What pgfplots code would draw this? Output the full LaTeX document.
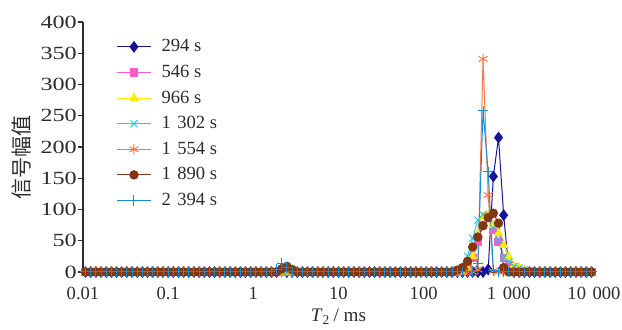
\documentclass[border=0pt]{standalone}
\usepackage{fontspec}
\setmainfont{Liberation Serif}
\newfontfamily\cjk{Noto Sans CJK SC}
\usepackage{pgfplots}
\usepackage{pgfplotstable}
\pgfplotsset{compat=1.18}
\definecolor{c1}{RGB}{20,20,150}
\definecolor{c2}{RGB}{250,90,200}
\definecolor{c3}{RGB}{250,235,0}
\definecolor{c4}{RGB}{40,200,230}
\definecolor{c5}{RGB}{250,120,70}
\definecolor{c6}{RGB}{130,55,20}
\definecolor{c7}{RGB}{20,140,220}
\definecolor{txt}{RGB}{45,45,45}
\newcommand{\ts}{\hspace{0.35em}}

\pgfplotstableread{
x a b c d e f g
0.010723 0 0 0 0 0 0 0
0.012328 0 0 0 0 0 0 0
0.014175 0 0 0 0 0 0 0
0.016298 0 0 0 0 0 0 0
0.018738 0 0 0 0 0 0 0
0.021544 0 0 0 0 0 0 0
0.024771 0 0 0 0 0 0 0
0.028480 0 0 0 0 0 0 0
0.032745 0 0 0 0 0 0 0
0.037649 0 0 0 0 0 0 0
0.043288 0 0 0 0 0 0 0
0.049770 0 0 0 0 0 0 0
0.057224 0 0 0 0 0 0 0
0.065793 0 0 0 0 0 0 0
0.075646 0 0 0 0 0 0 0
0.086975 0 0 0 0 0 0 0
0.1 0 0 0 0 0 0 0
0.11498 0 0 0 0 0 0 0
0.13219 0 0 0 0 0 0 0
0.15199 0 0 0 0 0 0 0
0.17475 0 0 0 0 0 0 0
0.20092 0 0 0 0 0 0 0
0.23101 0 0 0 0 0 0 0
0.26561 0 0 0 0 0 0 0
0.30539 0 0 0 0 0 0 0
0.35112 0 0 0 0 0 0 0
0.40370 0 0 0 0 0 0 0
0.46416 0 0 0 0 0 0 0
0.53367 0 0 0 0 0 0 0
0.61359 0 0 0 0 0 0 0
0.70548 0 0 0 0 0 0 0
0.81113 0 0 0 0 0 0 0
0.93260 0 0 0 0 0 0 0
1.0723 0 0 0 0 0 0 0
1.2328 0 0 0 0 0 0 0
1.4175 0 0 0 0 0 0 0
1.6298 0 0 0 0 0 0 0
1.8738 0 0 0 0 0 0 4
2.1544 2 0 0 0 0 5 14
2.4771 0 0 0 0 6 9 7
2.8480 0 0 0 0 0 4 0
3.2745 0 0 0 0 0 0 0
3.7649 0 0 0 0 0 0 0
4.3288 0 0 0 0 0 0 0
4.9770 0 0 0 0 0 0 0
5.7224 0 0 0 0 0 0 0
6.5793 0 0 0 0 0 0 0
7.5646 0 0 0 0 0 0 0
8.6975 0 0 0 0 0 0 0
10 0 0 0 0 0 0 0
11.498 0 0 0 0 0 0 0
13.219 0 0 0 0 0 0 0
15.199 0 0 0 0 0 0 0
17.475 0 0 0 0 0 0 0
20.092 0 0 0 0 0 0 0
23.101 0 0 0 0 0 0 0
26.561 0 0 0 0 0 0 0
30.539 0 0 0 0 0 0 0
35.112 0 0 0 0 0 0 0
40.370 0 0 0 0 0 0 0
46.416 0 0 0 0 0 0 0
53.367 0 0 0 0 0 0 0
61.359 0 0 0 0 0 0 0
70.548 0 0 0 0 0 0 0
81.113 0 0 0 0 0 0 0
93.260 0 0 0 0 0 0 0
107.23 0 0 0 0 0 0 0
123.28 0 0 0 0 0 0 0
141.75 0 0 0 0 0 0 0
162.98 0 0 0 0 0 0 0
187.38 0 0 0 0 0 0 0
215.44 0 0 0 0 0 0 0
247.71 0 0 0 0 0 3 0
284.80 0 3 0 4 0 7 0
327.45 0 8 5 25 0 17 0
376.49 0 22 25 54 0 40 0
432.88 0 48 60 83 4 56 13
497.70 0 75 88 92 341 74 258
572.24 4 90 91 86 123 87 160
657.93 153 67 75 70 2 94 3
756.46 215 48 62 51 0 78 0
869.75 91 22 43 24 0 7 0
1000 4 11 24 16 0 0 0
1149.8 0 4 10 9 0 0 0
1321.9 0 0 7 6 0 0 0
1519.9 0 0 3 4 0 0 0
1747.5 0 0 0 2 0 0 0
2009.2 0 0 0 0 0 0 0
2310.1 0 0 0 0 0 0 0
2656.1 0 0 0 0 0 0 0
3053.9 0 0 0 0 0 0 0
3511.2 0 0 0 0 0 0 0
4037.0 0 0 0 0 0 0 0
4641.6 0 0 0 0 0 0 0
5336.7 0 0 0 0 0 0 0
6135.9 0 0 0 0 0 0 0
7054.8 0 0 0 0 0 0 0
8111.3 0 0 0 0 0 0 0
9326.0 0 0 0 0 0 0 0
}\data

\begin{document}
\begin{tikzpicture}
\useasboundingbox (-41.5pt,-29pt) rectangle (269.5pt,136pt);
\begin{axis}[
  at={(0,0)}, anchor=south west,
  scale only axis, width=255.5pt, height=125pt,
  xmode=log, xmin=0.01, xmax=10000, ymin=0, ymax=400,
  axis x line=bottom, axis y line=left,
  axis line style={-, color=txt, line width=0.6pt},
  xtick={0.01,0.1,1,10,100,1000,10000},
  xticklabels={0.01,0.1,1,10,100,1\ts000,10\ts000},
  ytick={0,50,...,400},
  xminorticks=false,
  x tick style={draw=none},
  y tick style={color=txt, line width=0.6pt},
  tick align=outside, major tick length=2.5pt,
  /pgf/number format/assume math mode=true,
  tick label style={font=\fontsize{9.3}{11}\selectfont, text=txt},
  xticklabel style={anchor=center, yshift=-8pt},
  yticklabel style={xshift=4pt, xscale=1.3},
  xlabel={\textit{T}\textsubscript{2}\,/ ms},
  xlabel style={at={(axis description cs:0.5,-0.18)}, anchor=center, font=\fontsize{9.6}{11}\selectfont, text=txt},
  ylabel={\cjk 信号幅值},
  ylabel style={at={(axis description cs:-0.1194,0.456)}, anchor=center, font=\fontsize{10.5}{12}\selectfont, text=txt},
  legend style={at={(0.0646,0.942)}, anchor=north west, draw=none, fill=none, inner sep=0pt,
    font=\fontsize{9.3}{11}\selectfont, row sep=2.8pt, column sep=4pt,
    nodes={inner sep=1pt, text height=6.5pt, text depth=1.5pt, text=txt}},
  legend cell align=left,
  every axis plot/.append style={line width=0.5pt},
]
\addplot[c1, mark=diamond*, mark size=2.6pt, mark options={fill=c1}] table[x=x,y=a]{\data};
\addlegendentry{294 s}
\addplot[c2, mark=square*, mark size=1.8pt, mark options={fill=c2}] table[x=x,y=b]{\data};
\addlegendentry{546 s}
\addplot[c3, mark=triangle*, mark size=2.3pt, mark options={fill=c3}] table[x=x,y=c]{\data};
\addlegendentry{966 s}
\addplot[c4, mark=x, mark size=2.5pt] table[x=x,y=d]{\data};
\addlegendentry{1\ts302 s}
\addplot[c5, mark=asterisk, mark size=2.6pt] table[x=x,y=e]{\data};
\addlegendentry{1\ts554 s}
\addplot[c6, mark=*, mark size=2.1pt, mark options={fill=c6}] table[x=x,y=f]{\data};
\addlegendentry{1\ts890 s}
\addplot[c7, mark=+, mark size=2.6pt] table[x=x,y=g]{\data};
\addlegendentry{2\ts394 s}
\end{axis}
\end{tikzpicture}
\end{document}
